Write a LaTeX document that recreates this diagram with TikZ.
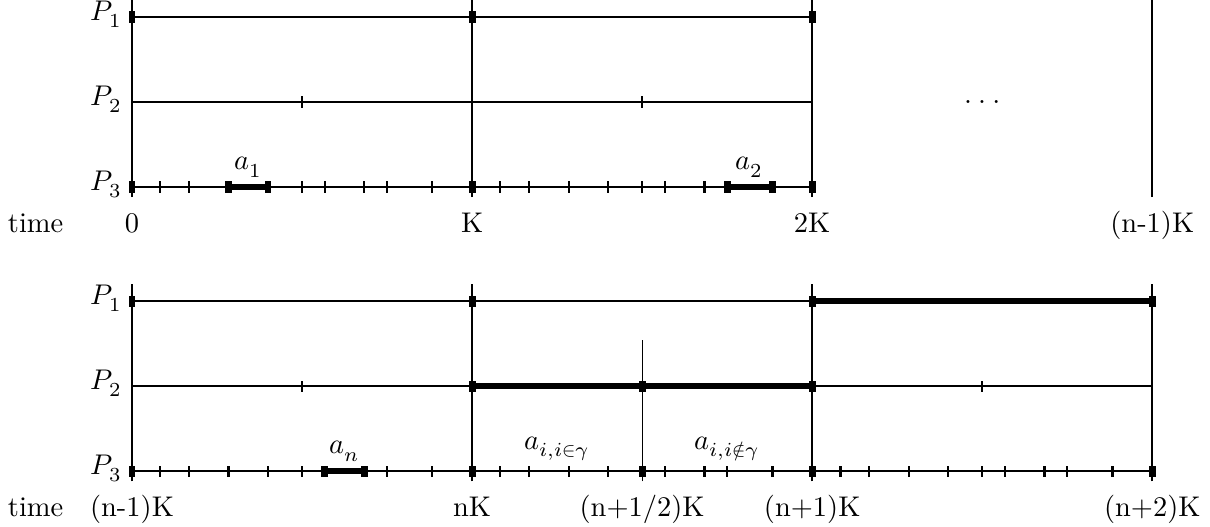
\documentclass[tikz,border=0pt]{standalone}
\usepackage{tikz}
\usepackage{amsmath}
\usepackage{unicode-math}
\usetikzlibrary{positioning}

\begin{document}
\begin{tikzpicture}[
    x=4.2cm, y=1cm,
    axis/.style={thick},
    busy/.style={line width=2pt},
    divider/.style={thick},
    halfline/.style={thin},
    tickmark/.style={thick},
    endmark/.style={line width=2.4pt},
    plabel/.style={left, yshift=1pt},
    tlabel/.style={anchor=base}
]
\useasboundingbox (-1.63cm,-4.187cm) rectangle (13.313cm,2.31cm);

% First periods
\foreach \y in {2.1,1.05,0} {
    \draw[axis] (0,\y) -- (2,\y);
}
\foreach \x in {0,1,2,3} {
    \draw[divider] (\x,-0.124) -- (\x,2.31);
}
\foreach \k in {0,1} {
    \foreach \f in {0.083,0.167,0.284,0.4,0.5,0.567,0.683,0.75,0.883} {
        \draw[tickmark] (\k+\f,0) +(0,-2pt) -- +(0,2pt);
    }
    \draw[tickmark] (\k+0.5,1.05) +(0,-2pt) -- +(0,2pt);
}
\foreach \x in {0,1,2} {
    \draw[endmark] (\x,2.1) +(0,-2pt) -- +(0,2pt);
    \draw[endmark] (\x,0) +(0,-2pt) -- +(0,2pt);
}
\foreach \x in {0.284,0.4,1.75,1.883} {
    \draw[endmark] (\x,0) +(0,-2pt) -- +(0,2pt);
}
\draw[busy] (0.284,0) -- (0.4,0);
\draw[busy] (1.75,0) -- (1.883,0);
\node[above] (a1) at (0.342,0) {$a_1$};
\node[above] (a2) at (1.8165,0) {$a_2$};
\node (dots) at (2.5,1.05) {.\kern2.2pt.\kern2.2pt.};

\node[plabel] (p1a) at (0,2.1) {$P_1$};
\node[plabel] (p2a) at (0,1.05) {$P_2$};
\node[plabel] (p3a) at (0,0) {$P_3$};
\node[tlabel] (timea) at (-0.2834,-0.556) {time};
\node[tlabel] (t0) at (0,-0.556) {0};
\node[tlabel] (t1) at (1,-0.556) {K};
\node[tlabel] (t2) at (2,-0.556) {2K};
\node[tlabel] (t3) at (3,-0.556) {(n-1)K};

% Last periods
\foreach \y in {-1.41,-2.46,-3.51} {
    \draw[axis] (0,\y) -- (3,\y);
}
\foreach \x in {0,1,2,3} {
    \draw[divider] (\x,-3.634) -- (\x,-1.2);
}
\draw[halfline] (1.5,-3.634) -- (1.5,-1.89);
\draw[busy] (1,-2.46) -- (2,-2.46);
\draw[busy] (2,-1.41) -- (3,-1.41);
\draw[busy] (0.567,-3.51) -- (0.683,-3.51);
\foreach \k in {0,1,2} {
    \foreach \f in {0.083,0.167,0.284,0.4,0.5,0.567,0.683,0.75,0.883} {
        \draw[tickmark] (\k+\f,-3.51) +(0,-2pt) -- +(0,2pt);
    }
}
\foreach \x in {0.5,2.5} {
    \draw[tickmark] (\x,-2.46) +(0,-2pt) -- +(0,2pt);
}
\foreach \x in {0,1,2,3} {
    \draw[endmark] (\x,-1.41) +(0,-2pt) -- +(0,2pt);
    \draw[endmark] (\x,-3.51) +(0,-2pt) -- +(0,2pt);
}
\foreach \x in {1,1.5,2} {
    \draw[endmark] (\x,-2.46) +(0,-2pt) -- +(0,2pt);
}
\foreach \x in {0.567,0.683,1.5} {
    \draw[endmark] (\x,-3.51) +(0,-2pt) -- +(0,2pt);
}
\node[above] (an) at (0.625,-3.51) {$a_n$};
\node[above] (ain) at (1.25,-3.51) {$a_{i,i\in\gamma}$};
\node[above] (aout) at (1.75,-3.51) {$a_{i,i\notin\gamma}$};

\node[plabel] (p1b) at (0,-1.41) {$P_1$};
\node[plabel] (p2b) at (0,-2.46) {$P_2$};
\node[plabel] (p3b) at (0,-3.51) {$P_3$};
\node[tlabel] (timeb) at (-0.2834,-4.066) {time};
\node[tlabel] (s0) at (0,-4.066) {(n-1)K};
\node[tlabel] (s1) at (1,-4.066) {nK};
\node[tlabel] (s15) at (1.5,-4.066) {(n+1/2)K};
\node[tlabel] (s2) at (2,-4.066) {(n+1)K};
\node[tlabel] (s3) at (3,-4.066) {(n+2)K};

\end{tikzpicture}
\end{document}
